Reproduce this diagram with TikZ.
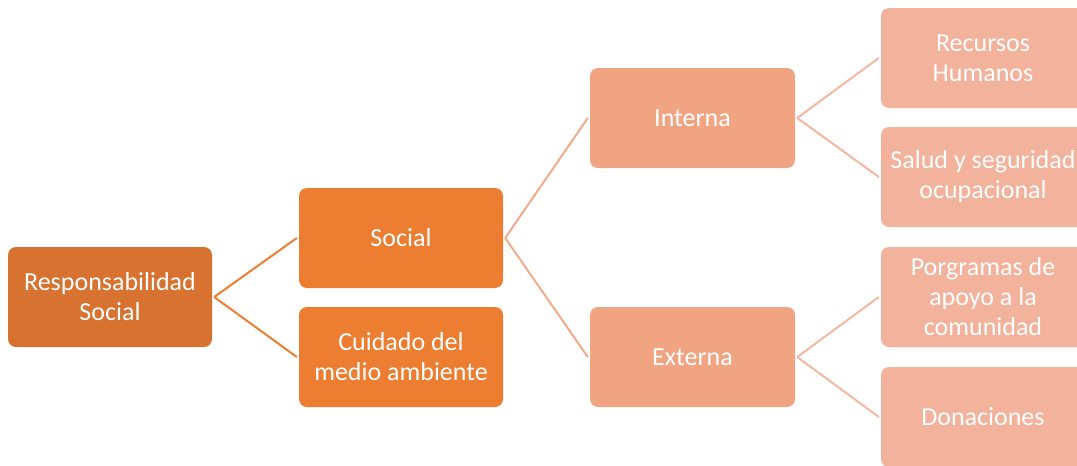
\documentclass[tikz,border=0pt]{standalone}
\usepackage{fontspec}
\setmainfont{Carlito}
\definecolor{cRoot}{HTML}{D77230}
\definecolor{cL1}{HTML}{ED7D31}
\definecolor{cL2}{HTML}{F1A482}
\definecolor{cL3}{HTML}{F3B29B}
\definecolor{lL2}{HTML}{F2AA8A}
\definecolor{lL3}{HTML}{F4B7A2}
\tikzset{
  box/.style={rounded corners=8pt, minimum width=204pt, minimum height=100pt, inner sep=0pt,
    align=center, text=white, font=\fontsize{26}{30}\selectfont},
  conn/.style={line width=2pt},
}
\begin{document}
\begin{tikzpicture}[x=1pt,y=-1pt]
\useasboundingbox (0,0) rectangle (1077,466);
\clip (0,0) rectangle (1077,466);
\node[box, fill=cRoot] (root) at (110,297) {Responsabilidad\\Social};
\node[box, fill=cL1] (social) at (401,238) {Social};
\node[box, fill=cL1] (cuidado) at (401,357) {Cuidado del\\medio ambiente};
\node[box, fill=cL2, minimum width=205pt] (interna) at (692.5,118) {Interna};
\node[box, fill=cL2, minimum width=205pt] (externa) at (692.5,357) {Externa};
\node[box, fill=cL3] (recursos) at (983,58) {Recursos\\Humanos};
\node[box, fill=cL3] (salud) at (983,177) {Salud y seguridad\\ocupacional};
\node[box, fill=cL3] (porg) at (983,297) {Porgramas de\\apoyo a la\\comunidad};
\node[box, fill=cL3] (don) at (983,417) {Donaciones};
\draw[conn, cL1] ([xshift=2pt]root.east) -- ([xshift=-2pt]social.west);
\draw[conn, cL1] ([xshift=2pt]root.east) -- ([xshift=-2pt]cuidado.west);
\draw[conn, lL2] ([xshift=2pt]social.east) -- ([xshift=-2pt]interna.west);
\draw[conn, lL2] ([xshift=2pt]social.east) -- ([xshift=-2pt]externa.west);
\draw[conn, lL3] ([xshift=2pt]interna.east) -- ([xshift=-2pt]recursos.west);
\draw[conn, lL3] ([xshift=2pt]interna.east) -- ([xshift=-2pt]salud.west);
\draw[conn, lL3] ([xshift=2pt]externa.east) -- ([xshift=-2pt]porg.west);
\draw[conn, lL3] ([xshift=2pt]externa.east) -- ([xshift=-2pt]don.west);
\end{tikzpicture}
\end{document}
